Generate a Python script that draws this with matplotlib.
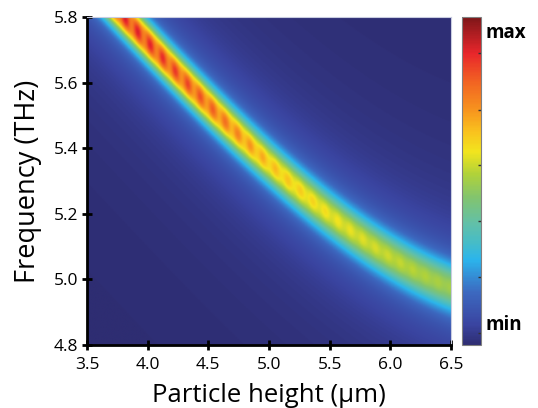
import matplotlib
matplotlib.use("Agg")
import matplotlib.pyplot as plt
import numpy as np
from matplotlib.colors import LinearSegmentedColormap

plt.rcParams["font.family"] = ["Open Sans", "DejaVu Sans"]

# ridge centre (height in um, frequency in THz)
ridge_h = [3.5, 3.8, 4.0, 4.25, 4.5, 4.75, 5.0, 5.25, 5.5, 5.75, 6.0, 6.25, 6.5]
ridge_f = [5.917, 5.80, 5.728, 5.635, 5.535, 5.436, 5.345, 5.262, 5.195, 5.135, 5.075, 5.018, 4.968]

# peak level, bead contrast and width along the ridge
level_h = [3.5, 4.0, 4.5, 5.0, 5.5, 6.0, 6.5]
level = [0.93, 0.90, 0.82, 0.67, 0.60, 0.55, 0.50]
bead_depth = [0.16, 0.16, 0.14, 0.09, 0.06, 0.04, 0.03]
width = [0.037, 0.038, 0.039, 0.040, 0.041, 0.042, 0.043]
bead_first = 3.813
bead_step = 0.103
halo_level = 0.22
halo_width = 0.12

h = np.linspace(3.5, 6.5, 600)
f = np.linspace(4.8, 5.8, 400)
H, F = np.meshgrid(h, f)

coef = np.polyfit(ridge_h, ridge_f, 3)
f0 = np.polyval(coef, H)
amp = np.interp(H, level_h, level)
dep = np.interp(H, level_h, bead_depth)
sig = np.interp(H, level_h, width)
d = F - f0
shape = np.exp(-d**2 / (2 * sig**2))
dot = np.exp(-d**2 / (2 * (0.55 * sig) ** 2))
wave = (np.cos(2 * np.pi * (H - bead_first) / bead_step) - 1) / 2
core = amp * shape * (1 + dep * wave * dot)
halo = halo_level / (1 + (d / halo_width) ** 2)
Z = np.clip(core + halo * (1 - shape), 0, 1)

cmap = LinearSegmentedColormap.from_list("spec", [
    (0.00, "#2e2d72"), (0.06, "#3a44a0"), (0.16, "#3c69c0"), (0.26, "#2bb5ec"),
    (0.31, "#45bcc8"), (0.37, "#62c0a8"), (0.45, "#82c46e"), (0.52, "#b0d23a"),
    (0.59, "#f2e41e"), (0.65, "#f9c21e"), (0.72, "#f7921e"), (0.80, "#f26522"),
    (0.89, "#e8262b"), (0.96, "#a51c20"), (1.00, "#7d1618")])

fig = plt.figure(figsize=(5.38, 4.08), dpi=100)
ax = fig.add_axes([0.1617, 0.1544, 0.6766, 0.8039])
im = ax.imshow(Z, extent=[3.5, 6.5, 4.8, 5.8], origin="lower", aspect="auto",
               cmap=cmap, vmin=0, vmax=1, interpolation="bilinear")
ax.set_xlim(3.5, 6.5)
ax.set_ylim(4.8, 5.8)
ax.set_xticks(np.arange(3.5, 6.51, 0.5))
ax.set_yticks(np.arange(4.8, 5.81, 0.2))
ax.set_xticklabels([f"{v:.1f}" for v in np.arange(3.5, 6.51, 0.5)])
ax.set_yticklabels([f"{v:.1f}" for v in np.arange(4.8, 5.81, 0.2)])
ax.tick_params(direction="inout", length=7, width=2, labelsize=12.5)
ax.tick_params(axis="x", pad=5)
ax.tick_params(axis="y", pad=3)
for s in ["left", "bottom"]:
    ax.spines[s].set_linewidth(2)
for s in ["top", "right"]:
    ax.spines[s].set_color("#c8cce0")
    ax.spines[s].set_linewidth(0.8)
ax.set_xlabel("Particle height (\u00b5m)", fontsize=18.5, labelpad=7)
ax.set_ylabel("Frequency (THz)", fontsize=19.5, labelpad=8)

cax = fig.add_axes([0.8587, 0.1544, 0.0354, 0.8039])
cb = fig.colorbar(im, cax=cax)
cb.outline.set_edgecolor("#808080")
cb.outline.set_linewidth(0.8)
cb.set_ticks([0.037, 0.207, 0.378, 0.549, 0.718, 0.891])
cb.ax.tick_params(direction="in", length=2, width=1, labelright=False, color="#333333")
cax.text(1.25, 0.95, "max", transform=cax.transAxes, fontsize=13.5, fontweight="bold",
         va="center", ha="left")
cax.text(1.25, 0.06, "min", transform=cax.transAxes, fontsize=13.5, fontweight="bold",
         va="center", ha="left")

fig.savefig("out.png", dpi=100)
